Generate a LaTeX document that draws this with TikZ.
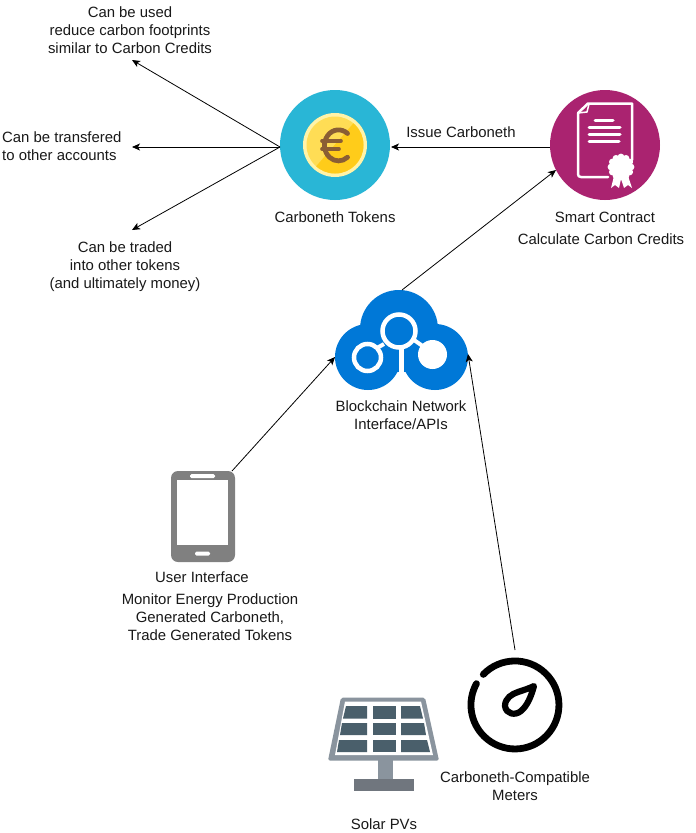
\documentclass[tikz,border=0pt]{standalone}
\usepackage{fontspec}
\setmainfont{Liberation Sans}
\usetikzlibrary{arrows.meta}
\definecolor{coinbg}{HTML}{29B6D6}
\definecolor{coinA}{HTML}{FFDD55}
\definecolor{coinB}{HTML}{FFCC1A}
\definecolor{coinE}{HTML}{FFF3A8}
\definecolor{coinT}{HTML}{8A5E34}
\definecolor{contract}{HTML}{AA2370}
\definecolor{cloud}{HTML}{0078D7}
\definecolor{phone}{HTML}{808080}
\definecolor{frameg}{HTML}{8A949E}
\definecolor{baseg}{HTML}{70767E}
\definecolor{cellg}{HTML}{4A5F6B}
\tikzset{
 lab/.style={font=\fontsize{14.9}{18}\selectfont, align=center, inner sep=0pt, text=black!90},
 conn/.style={draw=black, line width=0.8pt, -{Stealth[length=8pt,width=7pt,inset=2pt]}},
 iconc/.style={circle, minimum size=110pt, inner sep=0pt, outer sep=0pt},
 wl/.style={draw=white, line cap=round, line join=round},
 cellst/.style={fill=cellg, draw=none},
}
\begin{document}
\begin{tikzpicture}[x=1pt,y=-1pt]
\useasboundingbox (0,0) rectangle (696,833);
\fill[white] (0,0) rectangle (696,833);

% coin icon
\node[iconc, fill=coinbg] (coin) at (335,145) {};
\fill[coinE] (335,145) circle (32);
\fill[coinA] (335,145) circle (28.5);
\begin{scope}
\clip (335,145) circle (28.5);
\fill[coinB] (358,118) -- (368,118) -- (368,178) -- (306,178) -- cycle;
\end{scope}
\draw[coinT, line width=4.8pt, line cap=round] (347.5,133.5) arc (-50:-310:14 and 15.5);
\draw[coinT, line width=3.6pt, line cap=round] (322,141) -- (341,141) (322,149) -- (339,149);

% contract icon
\node[iconc, fill=contract] (contr) at (605,145) {};
\draw[wl, line width=2.5pt] (578,113) -- (588,103.5) -- (632,103.5) -- (632,160)
  (578,113) -- (578,174) .. controls (578,176) and (579,177) .. (581,177) -- (608,177);
\draw[wl, line width=1.5pt] (589,104) -- (587,112) -- (578,113);
\draw[wl, line width=3pt] (595,120) -- (613,120) (589,127) -- (620,127) (589,134) -- (620,134) (589,141) -- (619,141);
\foreach \a in {0,30,...,330} \fill[white] (621,167)++(\a:10) circle (3.4);
\fill[white] (621,167) circle (10.5);
\fill[white] (611,188) -- (614,176) -- (621,179) -- (619,188) -- (615,185) -- cycle;
\fill[white] (621,179) -- (628,176) -- (632,188) -- (628,185) -- (624,188) -- cycle;

% cloud icon
\fill[cloud] (368,357) circle (33) (435,357) circle (33) (399,329) circle (39);
\fill[cloud] (368,345) rectangle (435,372);
\node[circle, minimum size=78pt, inner sep=0pt, outer sep=0pt] (net) at (402,329) {};
\draw[white, line width=5pt] (401,340) -- (401,378);
\draw[white, line width=4pt] (384,344) -- (377,348) (414,340) -- (424,347);
\draw[white, line width=4.5pt, fill=cloud] (399,331) circle (16.5);
\draw[white, line width=4.5pt, fill=cloud] (367.5,357.5) circle (13.5);
\fill[white] (432.5,354.5) circle (14.5);

% phone icon
\node[minimum width=64pt, minimum height=91pt, inner sep=0pt, outer sep=0pt, draw=none, fill=phone, rounded corners=7pt] (ph) at (203,516.5) {};
\fill[white] (177,480) rectangle (228,545);
\fill[white, rounded corners=1.5pt] (190,474) rectangle (215,478);
\fill[white, rounded corners=1.5pt] (195,551.5) rectangle (210,555.5);

% solar panel
\fill[frameg] (378,758) rectangle (393,780);
\fill[baseg] (354,779) rectangle (414,791);
\fill[frameg, rounded corners=2pt] (341,697.5) -- (425,697.5) -- (439,760.5) -- (328,760.5) -- cycle;
\fill[white] (345,701.5) -- (421,701.5) -- (433,755) -- (335,755) -- cycle;
\fill[cellst] (346,706) -- (367,706) -- (367,718.5) -- (343,718.5) -- cycle;
\fill[cellst] (373,706) -- (396,706) -- (396,718.5) -- (373,718.5) -- cycle;
\fill[cellst] (401,706) -- (420,706) -- (423,718.5) -- (401,718.5) -- cycle;
\fill[cellst] (342,723) -- (367,723) -- (367,735) -- (340,735) -- cycle;
\fill[cellst] (373,723) -- (396,723) -- (396,735) -- (373,735) -- cycle;
\fill[cellst] (401,723) -- (424,723) -- (426,735) -- (401,735) -- cycle;
\fill[cellst] (339,740) -- (367,740) -- (367,752) -- (337,752) -- cycle;
\fill[cellst] (373,740) -- (396,740) -- (396,752) -- (373,752) -- cycle;
\fill[cellst] (401,740) -- (427,740) -- (430,752) -- (401,752) -- cycle;

% meter icon
\node[circle, minimum size=94pt, inner sep=0pt, outer sep=0pt] (meter) at (515,705) {};
\draw[black, line width=6.8pt, line cap=round] (483.3,674.4) arc (-136:209:44);
\draw[black, line width=6.2pt, line join=round] (534,686) .. controls (531,697) and (527,706) .. (521,711) .. controls (515,716) and (506,714) .. (505,706) .. controls (505,698) and (512,694) .. (518,692) .. controls (524,690) and (530,688) .. (534,686) -- cycle;

% labels
\node[lab] (l1) at (130,30) {Can be used\\reduce carbon footprints\\similar to Carbon Credits};
\node[lab, align=left, anchor=west] (l2) at (2,146) {Can be transfered\\to other accounts};
\node[lab] (l3) at (125,267) {Can be traded\\into other tokens\\(and ultimately money)};
\node[lab] (l4) at (461,132) {Issue Carboneth};
\node[lab] (l5) at (335,217) {Carboneth Tokens};
\node[lab] (l6) at (605,217) {Smart Contract};
\node[lab] (l7) at (601,239) {Calculate Carbon Credits};
\node[lab] (l8) at (401,415) {Blockchain Network\\Interface/APIs};
\node[lab] (l9) at (202,577) {User Interface};
\node[lab] (l10) at (210,617) {Monitor Energy Production\\Generated Carboneth,\\Trade Generated Tokens};
\node[lab] (l11) at (515,786) {Carboneth-Compatible\\Meters};
\node[lab] (l12) at (384,824) {Solar PVs};

% arrow ends
\coordinate (a1) at (132,60);
\coordinate (a2) at (132,147);
\coordinate (a3) at (132,230);
\coordinate (s1) at (515,650);
\draw[conn] (coin.west) ++(0,2) coordinate (cs) -- (a1);
\draw[conn] (cs) -- (a2);
\draw[conn] (cs) -- (a3);
\draw[conn] (contr.west) ++(0,2) -- (391,147);
\draw[conn] (402,290) -- (556,170);
\draw[conn] (232,471) -- (335,357);
\draw[conn] (s1) -- (468,354);
\end{tikzpicture}
\end{document}
